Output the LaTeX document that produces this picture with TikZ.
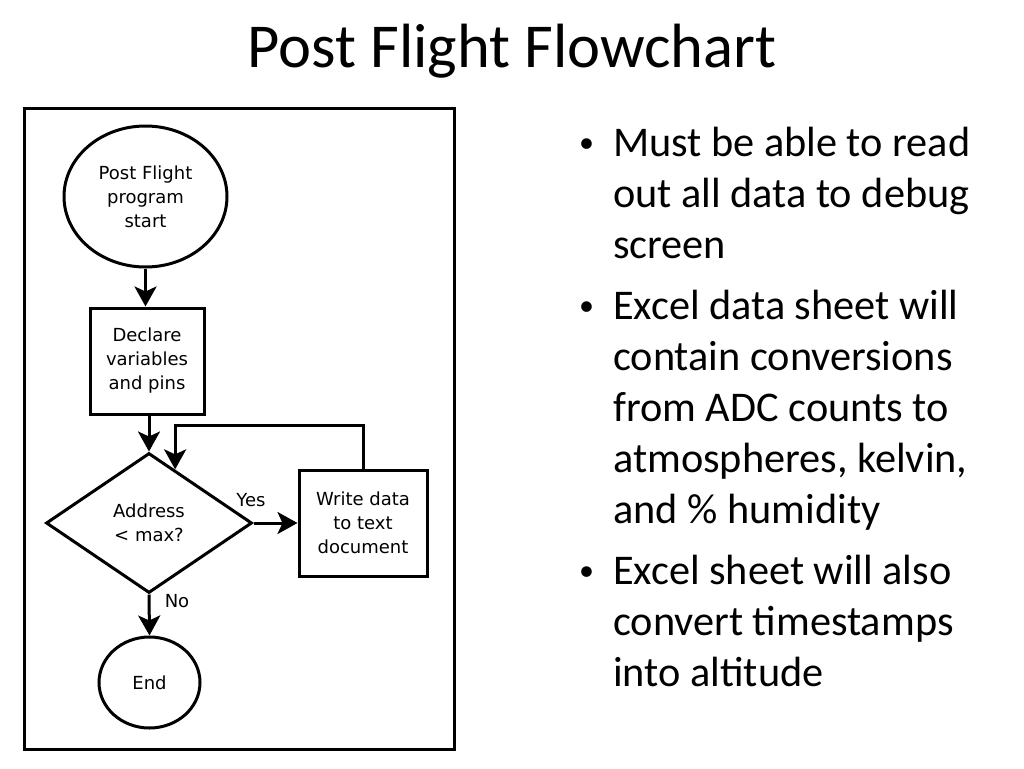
\documentclass[tikz,border=0pt]{standalone}
\usepackage{fontspec}
\setmainfont{Carlito}
\newfontfamily\flowfont{DejaVu Sans}
\usetikzlibrary{shapes.geometric,arrows.meta,calc}
\begin{document}
\begin{tikzpicture}[x=1pt,y=-1pt,
  fc/.style={draw=black,line width=3pt,font=\flowfont\fontsize{18}{24}\selectfont,align=center,inner sep=0pt},
  arr/.style={line width=3pt,-{Stealth[length=20pt,width=22pt,inset=5pt]}},
  lbl/.style={font=\flowfont\fontsize{18}{24}\selectfont,inner sep=0pt,anchor=base},
  bul/.style={font=\fontsize{42.3}{51}\selectfont,inner sep=0pt,anchor=base west},
  dot/.style={font=\fontsize{30}{30}\selectfont,inner sep=0pt,anchor=base west},
]
\useasboundingbox (0,0) rectangle (1024,768);
\fill[white] (0,0) rectangle (1024,768);
% title
\node[font=\fontsize{62.5}{70}\selectfont,inner sep=0pt,anchor=base] (title) at (512,67) {Post Flight Flowchart};
% frame
\node[draw=black,line width=3pt,minimum width=430pt,minimum height=641pt,inner sep=0pt] (frame) at (239,428.5) {};
% flowchart
\node[fc,ellipse,minimum width=163pt,minimum height=141pt] (start) at (145.5,196.5) {Post Flight\\program\\start};
\node[fc,rectangle,minimum width=114pt,minimum height=106pt] (decl) at (147,361) {Declare\\variables\\and pins};
\node[fc,diamond,minimum width=206pt,minimum height=140pt] (dec) at (149,523) {Address\\< max?};
\node[fc,rectangle,minimum width=128pt,minimum height=106pt] (write) at (363,523) {Write data\\to text\\document};
\node[fc,ellipse,minimum width=101pt,minimum height=91pt] (end) at (149.5,682.5) {End};
\coordinate (loopin) at ($(dec.north)!0.25!(dec.east)$);
\draw[arr] (start.south) -- (start.south |- decl.north);
\draw[arr] (decl.south -| dec.north) -- (dec.north);
\draw[arr] (dec.east) -- (write.west);
\draw[arr] (write.north) -- ++(0,-43) -| (loopin);
\draw[arr] (dec.south) -- (end.north);
\node[lbl] (yes) at (251,506) {Yes};
\node[lbl] (no) at (177,607) {No};
% bullets
\node[dot] (b1) at (579,152) {•};
\node[bul] (l1) at (613,156) {Must be able to read};
\node[bul] (l2) at (613,207) {out all data to debug};
\node[bul] (l3) at (613,258) {screen};
\node[dot] (b2) at (579,315) {•};
\node[bul] (l4) at (613,319) {Excel data sheet will};
\node[bul] (l5) at (613,370) {contain conversions};
\node[bul] (l6) at (613,421) {from ADC counts to};
\node[bul] (l7) at (613,472) {atmospheres, kelvin,};
\node[bul] (l8) at (613,523) {and \% humidity};
\node[dot] (b3) at (579,580) {•};
\node[bul] (l9) at (613,584) {Excel sheet will also};
\node[bul] (l10) at (613,635) {convert timestamps};
\node[bul] (l11) at (613,686) {into altitude};
\end{tikzpicture}
\end{document}
